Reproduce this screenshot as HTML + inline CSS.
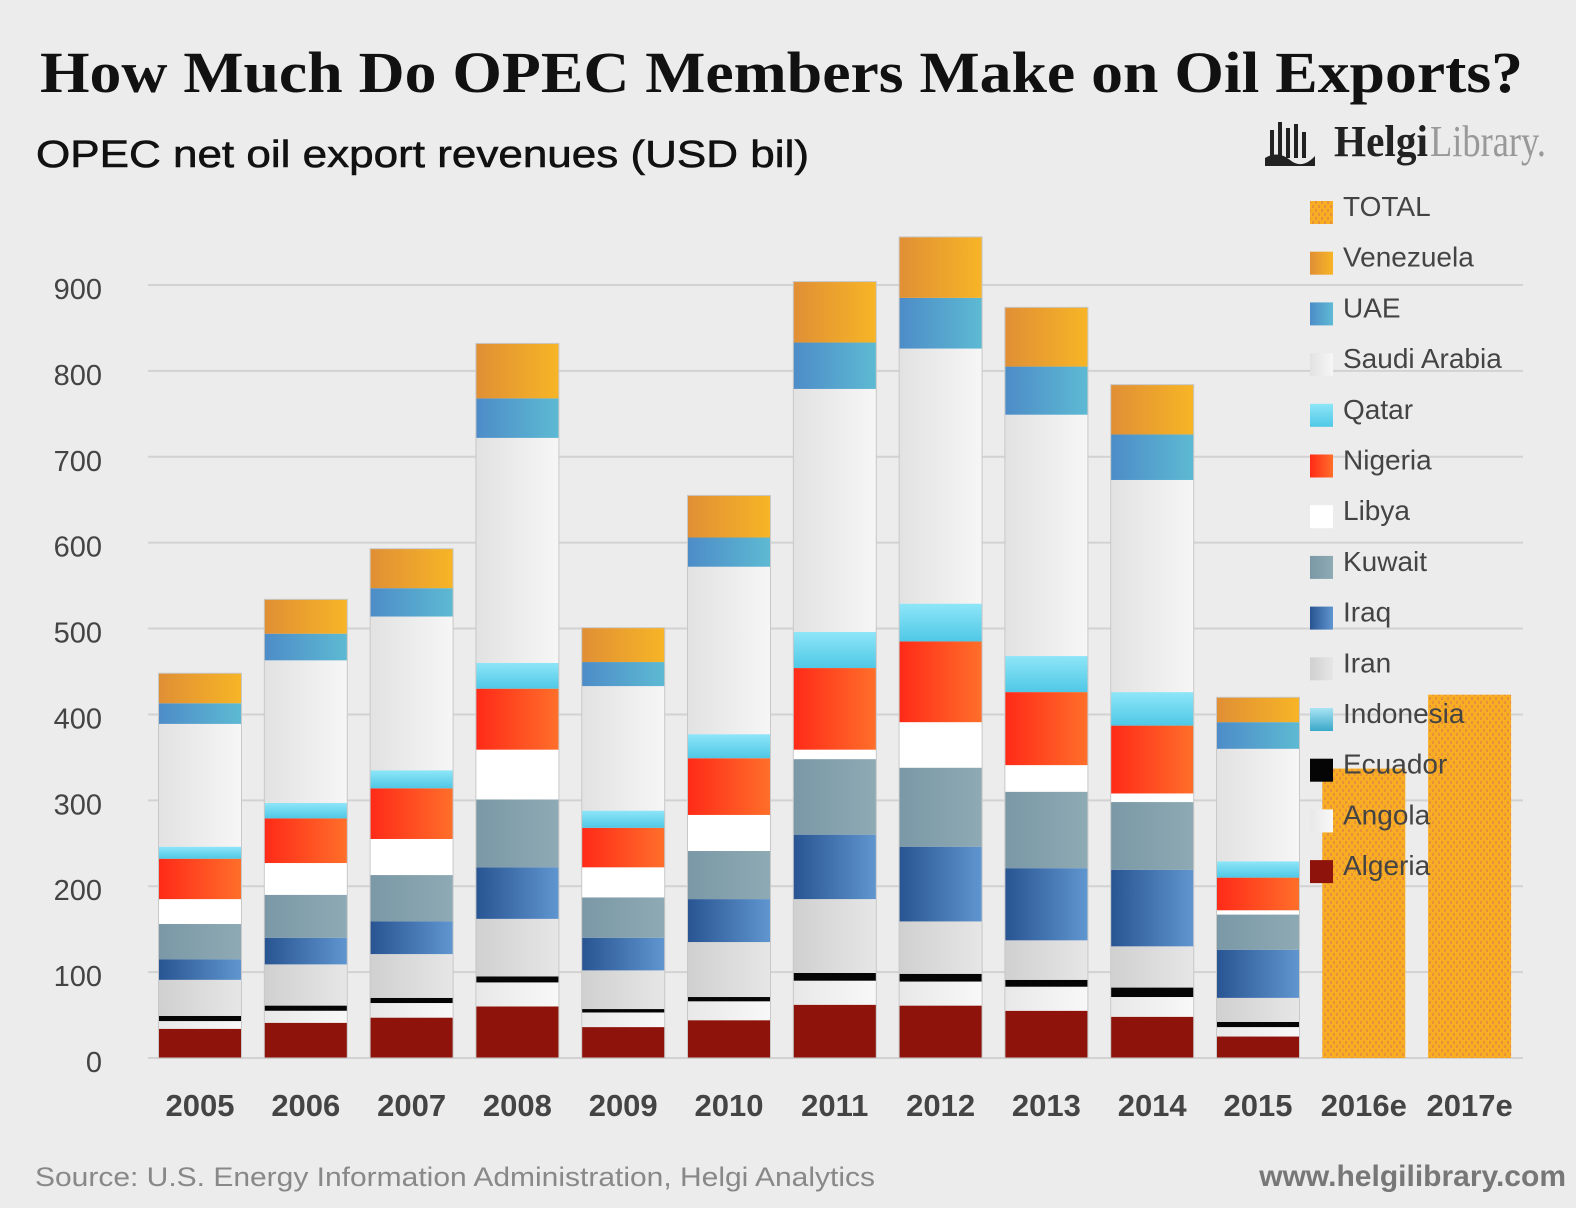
<!DOCTYPE html>
<html><head><meta charset="utf-8"><style>
html,body{margin:0;padding:0;background:#ececec;}
svg{display:block;}
text{font-family:"Liberation Sans",sans-serif;}
</style></head><body>
<svg id="chart" width="1576" height="1208" viewBox="0 0 1576 1208" xmlns="http://www.w3.org/2000/svg">
<defs>
<linearGradient id="g-ven" x1="0" x2="1"><stop offset="0" stop-color="#e08f35"/><stop offset="1" stop-color="#f7b526"/></linearGradient>
<linearGradient id="g-uae" x1="0" x2="1"><stop offset="0" stop-color="#4d8cc8"/><stop offset="1" stop-color="#5dbad3"/></linearGradient>
<linearGradient id="g-sau" x1="0" x2="1"><stop offset="0" stop-color="#e2e2e2"/><stop offset="1" stop-color="#f6f6f6"/></linearGradient>
<linearGradient id="g-qat" x1="0" y1="0" x2="0" y2="1"><stop offset="0" stop-color="#8ee6f8"/><stop offset="1" stop-color="#4fc8e6"/></linearGradient>
<linearGradient id="g-nig" x1="0" x2="1"><stop offset="0" stop-color="#ff2a18"/><stop offset="1" stop-color="#ff6f2a"/></linearGradient>
<linearGradient id="g-kuw" x1="0" x2="1"><stop offset="0" stop-color="#7a98a6"/><stop offset="1" stop-color="#8eaab4"/></linearGradient>
<linearGradient id="g-irq" x1="0" x2="1"><stop offset="0" stop-color="#285492"/><stop offset="1" stop-color="#6096d0"/></linearGradient>
<linearGradient id="g-irn" x1="0" x2="1"><stop offset="0" stop-color="#d0d0d0"/><stop offset="1" stop-color="#e6e6e6"/></linearGradient>
<linearGradient id="g-ind" x1="0" y1="0" x2="0" y2="1"><stop offset="0" stop-color="#a8e4f4"/><stop offset="1" stop-color="#3aa8c8"/></linearGradient>
<linearGradient id="g-ang" x1="0" x2="1"><stop offset="0" stop-color="#e8e8e8"/><stop offset="1" stop-color="#f8f8f8"/></linearGradient>
<pattern id="p-tot" width="6" height="8" patternUnits="userSpaceOnUse"><rect width="6" height="8" fill="#f7ae22"/><rect x="1" y="1" width="2" height="3" fill="#e8913a"/><rect x="4" y="5" width="2" height="3" fill="#e8913a"/></pattern>
</defs>
<text x="40" y="92" font-weight="bold" font-size="58" fill="#111" textLength="1483" lengthAdjust="spacingAndGlyphs" style="font-family:'Liberation Serif',serif">How Much Do OPEC Members Make on Oil Exports?</text>
<text x="36" y="167" font-size="38" fill="#111" stroke="#111" stroke-width="0.6" textLength="773" lengthAdjust="spacingAndGlyphs">OPEC net oil export revenues (USD bil)</text>
<g>
<rect x="1270" y="130" width="4" height="28" fill="#222"/><rect x="1278" y="122" width="4" height="36" fill="#222"/><rect x="1286" y="128" width="4" height="30" fill="#222"/><rect x="1294" y="124" width="4" height="34" fill="#222"/><rect x="1302" y="132" width="4" height="26" fill="#222"/>
<path d="M1265 158 Q1278 150 1290 160 T1315 156 L1315 166 L1265 166Z" fill="#222"/>
<text x="1334" y="156" font-size="44" fill="#222" style="font-family:'Liberation Serif',serif" font-weight="bold" textLength="94" lengthAdjust="spacingAndGlyphs">Helgi</text>
<text x="1430" y="156" font-size="44" fill="#999" style="font-family:'Liberation Serif',serif" textLength="116" lengthAdjust="spacingAndGlyphs">Library.</text>
</g>
<g id="grid"></g><g id="yaxis"></g><g id="bars"></g><g id="xaxis"></g><g id="legend"></g>
<text x="35" y="1186" font-size="27" fill="#888" textLength="840" lengthAdjust="spacingAndGlyphs">Source: U.S. Energy Information Administration, Helgi Analytics</text>
<text x="1566" y="1186" font-size="30" font-weight="bold" fill="#777" text-anchor="end">www.helgilibrary.com</text>
</svg>
<script>
const years = ["2005","2006","2007","2008","2009","2010","2011","2012","2013","2014","2015","2016e","2017e"];
const seriesNames = ["Algeria","Angola","Ecuador","Iran","Indonesia","Iraq","Kuwait","Libya","Nigeria","Qatar","Saudi Arabia","UAE","Venezuela"];
const algeria   = [34,41,47,60,36,44,62,61,55,48,25];
const angola    = [9,14,17,28,17,22,28,28,28,23,11];
const ecuador   = [6,6,6,7,4,5,9,9,8,11,6];
const iran      = [42,48,51,67,45,64,86,61,46,48,28];
const indonesia = [0,0,0,0,0,0,0,0,0,0,0];
const iraq      = [24,31,38,60,38,50,75,87,84,89,56];
const kuwait    = [41,50,54,79,47,56,88,92,89,79,41];
const libya     = [29,37,42,58,35,42,11,53,31,10,5];
const nigeria   = [47,52,59,71,46,66,95,94,85,79,38];
const qatar     = [14,18,21,30,20,28,42,44,42,39,19];
const saudi     = [143,166,179,262,145,195,283,297,281,247,131];
const uae       = [24,31,33,46,28,34,54,59,56,53,31];
const venezuela = [35,40,46,64,40,49,71,71,69,58,29];
const totalEst  = [0,0,0,0,0,0,0,0,0,0,0,337,423];
const yTicks = [0,100,200,300,400,500,600,700,800,900];
const legendLabels = ["TOTAL","Venezuela","UAE","Saudi Arabia","Qatar","Nigeria","Libya","Kuwait","Iraq","Iran","Indonesia","Ecuador","Angola","Algeria"];

const NS="http://www.w3.org/2000/svg";
const fills={"Algeria":"#8e130a","Angola":"url(#g-ang)","Ecuador":"#050505","Iran":"url(#g-irn)","Indonesia":"url(#g-ind)","Iraq":"url(#g-irq)","Kuwait":"url(#g-kuw)","Libya":"#ffffff","Nigeria":"url(#g-nig)","Qatar":"url(#g-qat)","Saudi Arabia":"url(#g-sau)","UAE":"url(#g-uae)","Venezuela":"url(#g-ven)","TOTAL":"url(#p-tot)"};
const seriesData=[algeria,angola,ecuador,iran,indonesia,iraq,kuwait,libya,nigeria,qatar,saudi,uae,venezuela];
const y0=1058, pxPer=(1058-285)/900;
function yScale(v){return y0-v*pxPer;}
function xCenter(i){return 200+i*105.8;}
const bw=83;
function mk(tag,attrs,parent){const e=document.createElementNS(NS,tag);for(const k in attrs)e.setAttribute(k,attrs[k]);parent.appendChild(e);return e;}
const grid=document.getElementById('grid'),yax=document.getElementById('yaxis');
yTicks.forEach(t=>{
  const l=mk('line',{x1:148,x2:1523,y1:yScale(t),y2:yScale(t),stroke:'#d2d2d2','stroke-width':2},grid);
  
  
  const tx=mk('text',{x:102,y:yScale(t)+14,'text-anchor':'end','font-size':29,fill:'#444'},yax);
  tx.textContent=t;
  
  
});
const bars=document.getElementById('bars'),xax=document.getElementById('xaxis');
years.forEach((yr,i)=>{
  const g=mk('g',{},bars);
  
  
  const x=xCenter(i)-bw/2;
  if(totalEst[i]>0){
    const r=mk('rect',{x:x,y:yScale(totalEst[i]),width:bw,height:yScale(0)-yScale(totalEst[i]),fill:fills.TOTAL},g);
    
    
  } else {
    let cum=0;
    seriesNames.forEach((s,k)=>{
      const v=seriesData[k][i]; if(!v){return;}
      const yt=yScale(cum+v), yb=yScale(cum);
      const r=mk('rect',{x:x,y:yt,width:bw,height:yb-yt,fill:fills[s]},g);
      
      
      cum+=v;
    });
    mk('rect',{x:x,y:yScale(cum),width:bw,height:yScale(0)-yScale(cum),fill:'none',stroke:'#c8c8c8','stroke-width':1},g);
  }
  const t=mk('text',{x:xCenter(i),y:1116,'text-anchor':'middle','font-size':31,'font-weight':'bold',fill:'#444'},xax);
  t.textContent=yr;
  
  
});
const leg=document.getElementById('legend');
legendLabels.forEach((lab,i)=>{
  const top=201+i*50.7;
  const g=mk('g',{},leg);
  
  
  mk('rect',{x:1310,y:top,width:23,height:23,fill:fills[lab]},g);
  const t=mk('text',{x:1343,y:top+15,'font-size':28,fill:'#444'},g);
  t.textContent=lab;
});
</script>
</body></html>
